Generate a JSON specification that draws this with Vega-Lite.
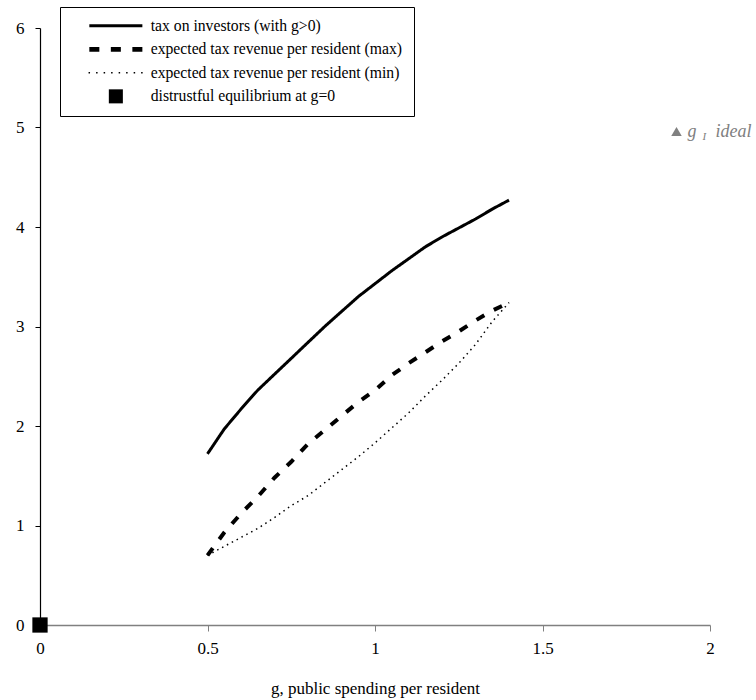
{
  "$schema": "https://vega.github.io/schema/vega-lite/v6.json",
  "width": 670,
  "height": 597,
  "autosize": {"type": "none"},
  "padding": {"left": 40, "top": 28, "right": 46, "bottom": 75},
  "config": {"view": {"stroke": null}, "font": "Liberation Serif, Times New Roman, Times, DejaVu Serif, serif"},
  "datasets": {
    "curves": [
      {"g": 0.5, "v": 1.72, "series": "tax on investors (with g>0)"},
      {"g": 0.55, "v": 1.97, "series": "tax on investors (with g>0)"},
      {"g": 0.6, "v": 2.17, "series": "tax on investors (with g>0)"},
      {"g": 0.65, "v": 2.36, "series": "tax on investors (with g>0)"},
      {"g": 0.7, "v": 2.52, "series": "tax on investors (with g>0)"},
      {"g": 0.75, "v": 2.68, "series": "tax on investors (with g>0)"},
      {"g": 0.8, "v": 2.84, "series": "tax on investors (with g>0)"},
      {"g": 0.85, "v": 3.0, "series": "tax on investors (with g>0)"},
      {"g": 0.9, "v": 3.15, "series": "tax on investors (with g>0)"},
      {"g": 0.95, "v": 3.3, "series": "tax on investors (with g>0)"},
      {"g": 1.0, "v": 3.43, "series": "tax on investors (with g>0)"},
      {"g": 1.05, "v": 3.56, "series": "tax on investors (with g>0)"},
      {"g": 1.1, "v": 3.68, "series": "tax on investors (with g>0)"},
      {"g": 1.15, "v": 3.8, "series": "tax on investors (with g>0)"},
      {"g": 1.2, "v": 3.9, "series": "tax on investors (with g>0)"},
      {"g": 1.25, "v": 3.99, "series": "tax on investors (with g>0)"},
      {"g": 1.3, "v": 4.08, "series": "tax on investors (with g>0)"},
      {"g": 1.35, "v": 4.18, "series": "tax on investors (with g>0)"},
      {"g": 1.4, "v": 4.27, "series": "tax on investors (with g>0)"},
      {"g": 0.5, "v": 0.7, "series": "expected tax revenue per resident (max)"},
      {"g": 0.55, "v": 0.93, "series": "expected tax revenue per resident (max)"},
      {"g": 0.6, "v": 1.12, "series": "expected tax revenue per resident (max)"},
      {"g": 0.65, "v": 1.29, "series": "expected tax revenue per resident (max)"},
      {"g": 0.7, "v": 1.48, "series": "expected tax revenue per resident (max)"},
      {"g": 0.75, "v": 1.64, "series": "expected tax revenue per resident (max)"},
      {"g": 0.8, "v": 1.82, "series": "expected tax revenue per resident (max)"},
      {"g": 0.85, "v": 1.96, "series": "expected tax revenue per resident (max)"},
      {"g": 0.9, "v": 2.1, "series": "expected tax revenue per resident (max)"},
      {"g": 0.95, "v": 2.24, "series": "expected tax revenue per resident (max)"},
      {"g": 1.0, "v": 2.36, "series": "expected tax revenue per resident (max)"},
      {"g": 1.05, "v": 2.51, "series": "expected tax revenue per resident (max)"},
      {"g": 1.1, "v": 2.63, "series": "expected tax revenue per resident (max)"},
      {"g": 1.15, "v": 2.74, "series": "expected tax revenue per resident (max)"},
      {"g": 1.2, "v": 2.85, "series": "expected tax revenue per resident (max)"},
      {"g": 1.25, "v": 2.95, "series": "expected tax revenue per resident (max)"},
      {"g": 1.3, "v": 3.06, "series": "expected tax revenue per resident (max)"},
      {"g": 1.35, "v": 3.16, "series": "expected tax revenue per resident (max)"},
      {"g": 1.4, "v": 3.24, "series": "expected tax revenue per resident (max)"},
      {"g": 0.5, "v": 0.7, "series": "expected tax revenue per resident (min)"},
      {"g": 0.55, "v": 0.79, "series": "expected tax revenue per resident (min)"},
      {"g": 0.6, "v": 0.88, "series": "expected tax revenue per resident (min)"},
      {"g": 0.65, "v": 0.97, "series": "expected tax revenue per resident (min)"},
      {"g": 0.7, "v": 1.08, "series": "expected tax revenue per resident (min)"},
      {"g": 0.75, "v": 1.2, "series": "expected tax revenue per resident (min)"},
      {"g": 0.8, "v": 1.3, "series": "expected tax revenue per resident (min)"},
      {"g": 0.85, "v": 1.43, "series": "expected tax revenue per resident (min)"},
      {"g": 0.9, "v": 1.56, "series": "expected tax revenue per resident (min)"},
      {"g": 0.95, "v": 1.69, "series": "expected tax revenue per resident (min)"},
      {"g": 1.0, "v": 1.83, "series": "expected tax revenue per resident (min)"},
      {"g": 1.05, "v": 1.98, "series": "expected tax revenue per resident (min)"},
      {"g": 1.1, "v": 2.13, "series": "expected tax revenue per resident (min)"},
      {"g": 1.15, "v": 2.3, "series": "expected tax revenue per resident (min)"},
      {"g": 1.2, "v": 2.46, "series": "expected tax revenue per resident (min)"},
      {"g": 1.25, "v": 2.63, "series": "expected tax revenue per resident (min)"},
      {"g": 1.3, "v": 2.82, "series": "expected tax revenue per resident (min)"},
      {"g": 1.35, "v": 3.05, "series": "expected tax revenue per resident (min)"},
      {"g": 1.4, "v": 3.24, "series": "expected tax revenue per resident (min)"}
    ],
    "eq": [{"g": 0, "v": 0, "series": "distrustful equilibrium at g=0"}],
    "ideal": [{"g": 1.9, "v": 4.96}]
  },
  "encoding": {
    "x": {
      "field": "g", "type": "quantitative",
      "scale": {"domain": [0, 2], "nice": false, "zero": false},
      "title": "g, public spending per resident",
      "axis": {
        "values": [0, 0.5, 1, 1.5, 2], "format": "~g", "grid": false,
        "domainColor": "#808080", "domainWidth": 1.5, "tickColor": "#808080", "tickSize": 6,
        "labelPadding": 9, "labelFlush": false, "labelFontSize": 17,
        "labelColor": "black", "titleFontSize": 17,
        "titleFontWeight": "normal", "titleColor": "black", "titlePadding": 24
      }
    },
    "y": {
      "field": "v", "type": "quantitative",
      "scale": {"domain": [0, 6], "nice": false},
      "title": null,
      "axis": {
        "values": [0, 1, 2, 3, 4, 5, 6], "grid": false,
        "domainColor": "black", "domainWidth": 1.2, "tickColor": "black", "tickSize": 5,
        "labelPadding": 11, "labelFontSize": 17, "labelColor": "black"
      }
    }
  },
  "layer": [
    {
      "data": {"name": "curves"},
      "mark": {"type": "line", "color": "black", "clip": false},
      "encoding": {
        "detail": {"field": "series", "type": "nominal"},
        "strokeDash": {
          "field": "series", "type": "nominal",
          "scale": {
            "domain": ["tax on investors (with g>0)", "expected tax revenue per resident (max)", "expected tax revenue per resident (min)"],
            "range": [[1, 0], [9, 11], [1.5, 4]]
          },
          "legend": null
        },
        "strokeWidth": {
          "condition": [
            {"test": "datum.series === 'tax on investors (with g>0)'", "value": 3},
            {"test": "datum.series === 'expected tax revenue per resident (max)'", "value": 4}
          ],
          "value": 1.5
        }
      }
    },
    {
      "data": {"name": "eq"},
      "mark": {"type": "point", "filled": true, "size": 200, "color": "black", "opacity": 1, "clip": false},
      "encoding": {
        "shape": {
          "field": "series", "type": "nominal",
          "scale": {
            "domain": ["tax on investors (with g>0)", "expected tax revenue per resident (max)", "expected tax revenue per resident (min)", "distrustful equilibrium at g=0"],
            "range": [
              "M-4.08,-0.23H4.08V0.23H-4.08Z",
              "M-4.08,-0.35H-2.54V0.35H-4.08ZM-0.77,-0.35H0.77V0.35H-0.77ZM2.54,-0.35H4.08V0.35H2.54Z",
              "M-4.2,-0.115H-3.97V0.115H-4.2ZM-3.04,-0.115H-2.81V0.115H-3.04ZM-1.88,-0.115H-1.65V0.115H-1.88ZM-0.73,-0.115H-0.5V0.115H-0.73ZM0.43,-0.115H0.66V0.115H0.43ZM1.58,-0.115H1.81V0.115H1.58ZM2.74,-0.115H2.97V0.115H2.74ZM3.89,-0.115H4.12V0.115H3.89Z",
              "M-1.08,-1.08H1.08V1.08H-1.08Z"
            ]
          },
          "legend": {
            "orient": "none", "legendX": 20, "legendY": -21, "title": null,
            "strokeColor": "black", "fillColor": "white", "padding": 11,
            "labelFontSize": 15.7, "labelColor": "black",
            "symbolSize": 169, "symbolOffset": 37, "labelOffset": 27, "rowPadding": 6.5,
            "symbolFillColor": "black", "symbolStrokeWidth": 0, "symbolOpacity": 1,
            "labelLimit": 400
          }
        }
      }
    },
    {
      "data": {"name": "ideal"},
      "mark": {"type": "point", "shape": "triangle-up", "filled": true, "size": 110, "color": "#808080", "opacity": 1}
    },
    {
      "data": {"name": "ideal"},
      "mark": {"type": "text", "text": "g", "fontStyle": "italic", "fontSize": 18, "color": "#808080", "align": "left", "baseline": "alphabetic", "dx": 11, "dy": 6}
    },
    {
      "data": {"name": "ideal"},
      "mark": {"type": "text", "text": "I", "fontStyle": "italic", "fontSize": 11, "color": "#808080", "align": "left", "baseline": "alphabetic", "dx": 26, "dy": 9}
    },
    {
      "data": {"name": "ideal"},
      "mark": {"type": "text", "text": "ideal", "fontStyle": "italic", "fontSize": 18, "color": "#808080", "align": "left", "baseline": "alphabetic", "dx": 39, "dy": 6}
    }
  ]
}
